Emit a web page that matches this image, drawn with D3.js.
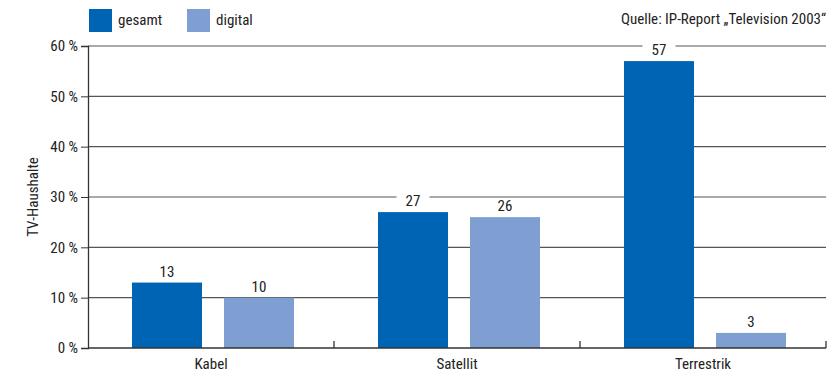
<!DOCTYPE html>
<html><head><meta charset="utf-8">
<script src="https://cdn.jsdelivr.net/npm/d3@7"></script>
<style>
body{margin:0;background:#fff;}
text{font-family:"Liberation Sans Narrow","Roboto Condensed","Arial Narrow",sans-serif;fill:#222;}
</style></head><body>
<svg id="c" width="836" height="373"></svg>
<script>
const categories = ["Kabel", "Satellit", "Terrestrik"];
const seriesNames = ["gesamt", "digital"];
const gesamt = [13, 27, 57];
const digital = [10, 26, 3];
const yTicks = [0, 10, 20, 30, 40, 50, 60];
const colors = {gesamt: "#0064b4", digital: "#7f9fd3"};
const FS = "15px";

const svg = d3.select("#c");
const m = {l: 88, r: 826, t: 46, b: 348};
const x = d3.scaleBand().domain(categories).range([m.l, m.r]).paddingInner(0).paddingOuter(0);
const xs = d3.scaleBand().domain(seriesNames).range([44, 44 + 162]).paddingInner(22 / 92).paddingOuter(0);
const y = d3.scaleLinear().domain([0, 60]).range([m.b, m.t]);

// gridlines
svg.append("g").selectAll("line").data(yTicks.filter(d => d > 0)).join("line")
  .attr("x1", m.l).attr("x2", m.r).attr("y1", d => y(d)).attr("y2", d => y(d))
  .attr("stroke", "#555").attr("stroke-width", 1.1);

// y axis
const ya = svg.append("g").attr("transform", `translate(${m.l},0)`)
  .call(d3.axisLeft(y).tickValues(yTicks).tickFormat(d => d + " %").tickSize(7).tickPadding(3));
ya.select(".domain").attr("stroke", "#333").attr("stroke-width", 1.3);
ya.selectAll(".tick line").attr("stroke", "#333");
ya.selectAll("text").style("font-size", FS).attr("fill", "#222");

const data = categories.map((c, i) => ({c, vals: [{s: "gesamt", v: gesamt[i]}, {s: "digital", v: digital[i]}]}));

const g = svg.append("g").selectAll("g").data(data).join("g")
  .attr("transform", d => `translate(${x(d.c)},0)`);
g.selectAll("rect.bar").data(d => d.vals).join("rect").attr("class", "bar")
  .attr("x", d => xs(d.s)).attr("width", xs.bandwidth())
  .attr("y", d => y(d.v)).attr("height", d => y(0) - y(d.v))
  .attr("fill", d => colors[d.s]);
g.selectAll("rect.bg").data(d => d.vals).join("rect").attr("class", "bg")
  .attr("x", d => xs(d.s) + xs.bandwidth() / 2 - 16.5).attr("width", 33)
  .attr("y", d => y(d.v) - 19).attr("height", 15).attr("fill", "#fff");
g.selectAll("text.val").data(d => d.vals).join("text").attr("class", "val")
  .attr("x", d => xs(d.s) + xs.bandwidth() / 2).attr("y", d => y(d.v) - 6)
  .attr("text-anchor", "middle").style("font-size", FS).text(d => d.v);

// x axis
svg.append("line").attr("x1", m.l).attr("x2", m.r).attr("y1", m.b).attr("y2", m.b)
  .attr("stroke", "#333").attr("stroke-width", 1.3);
svg.append("g").selectAll("line").data(categories).join("line")
  .attr("x1", d => x(d) + x.bandwidth()).attr("x2", d => x(d) + x.bandwidth())
  .attr("y1", m.b).attr("y2", m.b - 7).attr("stroke", "#333").attr("stroke-width", 1.3);
svg.append("g").selectAll("text").data(categories).join("text")
  .attr("x", d => x(d) + x.bandwidth() / 2).attr("y", 369)
  .attr("text-anchor", "middle").style("font-size", FS).text(d => d);

// y title
svg.append("text").attr("transform", `translate(38,${(m.t + m.b) / 2}) rotate(-90)`)
  .attr("text-anchor", "middle").style("font-size", FS).text("TV-Haushalte");

// legend
const lx = [89, 187];
const lg = svg.append("g").selectAll("g").data(seriesNames).join("g")
  .attr("transform", (d, i) => `translate(${lx[i]},9)`);
lg.append("rect").attr("width", 23).attr("height", 23).attr("fill", d => colors[d]);
lg.append("text").attr("x", 29).attr("y", 16).style("font-size", FS).text(d => d);

svg.append("text").attr("x", 826).attr("y", 24).attr("text-anchor", "end")
  .style("font-size", FS).text("Quelle: IP-Report \u201ETelevision 2003\u201C");
</script></body></html>
